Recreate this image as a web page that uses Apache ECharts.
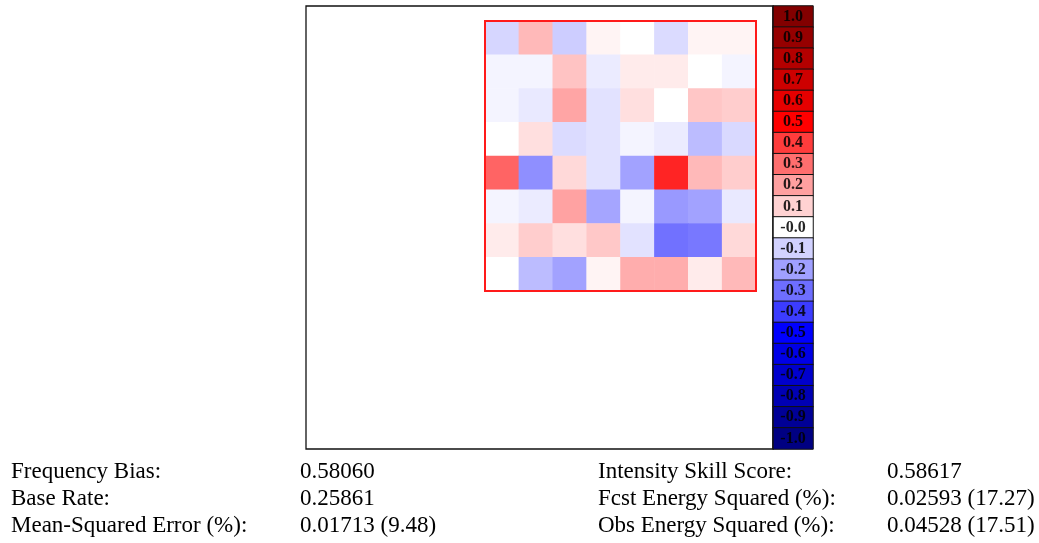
<!DOCTYPE html>
<html>
<head>
<meta charset="utf-8">
<script src="https://cdn.jsdelivr.net/npm/echarts@6/dist/echarts.min.js"></script>
<style>
html,body{margin:0;padding:0;background:#fff;}
#c{width:1039px;height:543px;}
</style>
</head>
<body>
<div id="c"></div>
<script>
// 8x8 tile values (row 0 = top)
const tileRows = [
  [-0.09, 0.15, -0.11, 0.025, 0.0, -0.08, 0.025, 0.025],
  [-0.025, -0.025, 0.13, -0.045, 0.045, 0.045, 0.0, -0.025],
  [-0.025, -0.05, 0.19, -0.065, 0.07, 0.0, 0.125, 0.11],
  [0.0, 0.07, -0.08, -0.065, -0.025, -0.045, -0.145, -0.085],
  [0.32, -0.235, 0.085, -0.065, -0.195, 0.44, 0.15, 0.11],
  [-0.025, -0.045, 0.195, -0.19, -0.025, -0.215, -0.195, -0.05],
  [0.045, 0.11, 0.07, 0.12, -0.065, -0.295, -0.28, 0.085],
  [0.0, -0.145, -0.195, 0.025, 0.175, 0.175, 0.045, 0.15]
];
const tileCols = ['0','1','2','3','4','5','6','7'];
const tileRowNames = ['0','1','2','3','4','5','6','7'];

// colour bar
const barValues = [1.0,0.9,0.8,0.7,0.6,0.5,0.4,0.3,0.2,0.1,0.0,-0.1,-0.2,-0.3,-0.4,-0.5,-0.6,-0.7,-0.8,-0.9,-1.0];
const barLabels = ['1.0','0.9','0.8','0.7','0.6','0.5','0.4','0.3','0.2','0.1','-0.0','-0.1','-0.2','-0.3','-0.4','-0.5','-0.6','-0.7','-0.8','-0.9','-1.0'];
const barColors = ['#000082','#000096','#0000b4','#0000cd','#0000e6','#0000ff','#3c3cff','#6e6eff','#a0a0ff','#d2d2ff','#ffffff',
                   '#ffd2d2','#ffa0a0','#ff6e6e','#ff3c3c','#ff0000','#e60000','#cd0000','#b40000','#960000','#820000'];

// statistics text
const leftNames = ['Frequency Bias:','Base Rate:','Mean-Squared Error (%):'];
const leftVals = ['0.58060','0.25861','0.01713 (9.48)'];
const rightNames = ['Intensity Skill Score:','Fcst Energy Squared (%):','Obs Energy Squared (%):'];
const rightVals = ['0.58617','0.02593 (17.27)','0.04528 (17.51)'];

const tileData = [];
tileRows.forEach((row, r) => row.forEach((v, c) => tileData.push([c, r, v])));
const barData = barValues.map((v, i) => [0, i, v]);

const font = 'Liberation Serif, Times New Roman, serif';
const graphics = [];
const rowY = [473, 500, 527];
[[leftNames, 11], [leftVals, 300], [rightNames, 598], [rightVals, 887]].forEach(([arr, x]) => {
  arr.forEach((t, i) => graphics.push({
    type: 'text', left: x, top: rowY[i] - 13,
    style: { text: t, font: '23px ' + font, fill: '#000' }
  }));
});

const chart = echarts.init(document.getElementById('c'), null, {renderer: 'canvas'});
chart.setOption({
  animation: false,
  backgroundColor: '#fff',
  grid: [
    { left: 306, top: 6, width: 467, height: 443, show: true, borderColor: '#111', borderWidth: 1.3, backgroundColor: 'transparent', z: 10 },
    { left: 485, top: 21, width: 271, height: 270, show: true, borderColor: '#ff1a1a', borderWidth: 2, backgroundColor: 'transparent', z: 10 },
    { left: 773, top: 6, width: 40, height: 443, show: false }
  ],
  xAxis: [
    { gridIndex: 0, type: 'value', show: false, min: 0, max: 1 },
    { gridIndex: 1, type: 'category', data: tileCols, show: false },
    { gridIndex: 2, type: 'category', data: ['bar'], show: false }
  ],
  yAxis: [
    { gridIndex: 0, type: 'value', show: false, min: 0, max: 1 },
    { gridIndex: 1, type: 'category', data: tileRowNames, inverse: true, show: false },
    { gridIndex: 2, type: 'category', data: barLabels, inverse: true, show: false }
  ],
  visualMap: {
    type: 'continuous', show: false, min: -1, max: 1, seriesIndex: [0, 1], dimension: 2,
    inRange: { color: barColors }
  },
  series: [
    { type: 'heatmap', xAxisIndex: 1, yAxisIndex: 1, data: tileData,
      itemStyle: { borderWidth: 0 }, emphasis: { disabled: true } },
    { type: 'heatmap', xAxisIndex: 2, yAxisIndex: 2, data: barData,
      itemStyle: { borderColor: '#111', borderWidth: 1 },
      label: { show: true, formatter: p => barLabels[p.data[1]], fontFamily: font, fontSize: 16, fontWeight: 'bold', color: '#000', opacity: 0.85 },
      emphasis: { disabled: true } }
  ],
  graphic: graphics
});
</script>
</body>
</html>
